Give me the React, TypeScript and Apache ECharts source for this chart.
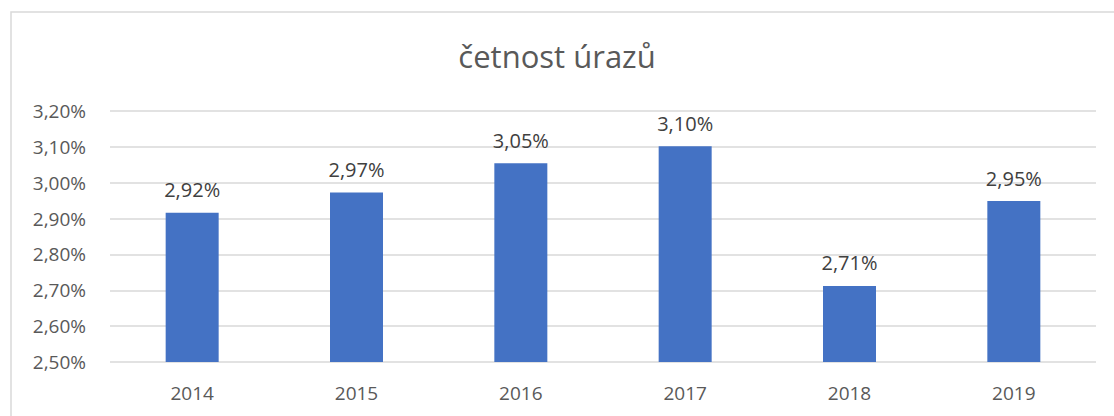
import React, { useEffect, useRef } from "react";
import * as echarts from "echarts";

const categories = ["2014", "2015", "2016", "2017", "2018", "2019"];
const values = [2.916, 2.973, 3.054, 3.102, 2.712, 2.949];
const yMin = 2.5;
const yMax = 3.2;
const yStep = 0.1;
const titleText = "četnost úrazů";

const fmt = (v: number) => v.toFixed(2).replace(".", ",") + "%";

export default function App() {
  const ref = useRef<HTMLDivElement>(null);
  useEffect(() => {
    document.body.style.margin = "0";
    const chart = echarts.init(ref.current!, null, { renderer: "svg" });
    chart.setOption({
      animation: false,
      backgroundColor: "#ffffff",
      textStyle: { fontFamily: "Open Sans" },
      title: {
        text: titleText,
        left: "center",
        top: 35,
        textStyle: {
          fontFamily: "Open Sans",
          fontSize: 31,
          fontWeight: "normal",
          color: "#595959",
        },
      },
      graphic: [
        {
          type: "rect",
          shape: { x: 11, y: 12, width: 1200, height: 500 },
          style: { fill: "none", stroke: "#d9d9d9", lineWidth: 1.5 },
          silent: true,
        },
      ],
      grid: { left: 110, right: 18, top: 111, bottom: 54 },
      xAxis: {
        type: "category",
        data: categories,
        axisLine: { show: false },
        axisTick: { show: false },
        axisLabel: { color: "#595959", fontSize: 19, margin: 21, fontFamily: "Open Sans" },
      },
      yAxis: {
        type: "value",
        min: yMin,
        max: yMax,
        interval: yStep,
        axisLine: { show: false },
        axisTick: { show: false },
        splitLine: { lineStyle: { color: "#d9d9d9", width: 1.5 } },
        axisLabel: {
          color: "#595959",
          fontSize: 19,
          margin: 24,
          fontFamily: "Open Sans",
          formatter: (v: number) => fmt(v),
        },
      },
      series: [
        {
          type: "bar",
          data: values,
          barWidth: 53,
          itemStyle: { color: "#4472c4" },
          label: {
            show: true,
            position: "top",
            distance: 13,
            color: "#404040",
            fontSize: 20,
            fontFamily: "Open Sans",
            formatter: (p: any) => fmt(p.value),
          },
        },
      ],
    });
    return () => chart.dispose();
  }, []);
  return <div ref={ref} style={{ width: 1114, height: 416 }} />;
}
